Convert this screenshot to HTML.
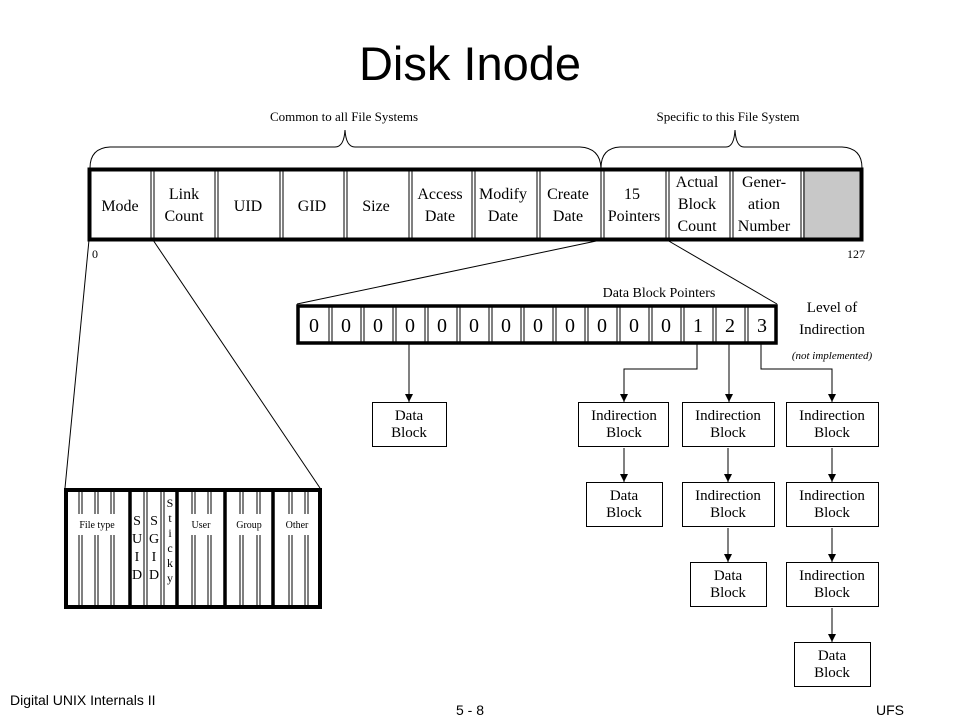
<!DOCTYPE html>
<html><head><meta charset="utf-8"><style>
html,body{margin:0;padding:0;background:#fff;}
svg{display:block;}
.s{font-family:"Liberation Serif",serif;}
.a{font-family:"Liberation Sans",sans-serif;}
</style></head><body>
<svg width="960" height="720" viewBox="0 0 960 720" xmlns="http://www.w3.org/2000/svg">
<defs><marker id="ar" viewBox="0 0 10 10" refX="10" refY="5" markerWidth="8" markerHeight="8" orient="auto" markerUnits="userSpaceOnUse"><path d="M0,0L10,5L0,10z" fill="#000"/></marker></defs>
<text x="470" y="80" class="a" font-size="47" text-anchor="middle">Disk Inode</text>
<text x="344" y="121" class="s" font-size="13" text-anchor="middle">Common to all File Systems</text>
<text x="728" y="121" class="s" font-size="13" text-anchor="middle">Specific to this File System</text>
<g fill="none" stroke="#000" stroke-width="1">
<path d="M90,168 Q90,148 110,147 L335,147 Q344,147 345,130 Q346,147 355,147 L580,147 Q600,148 601,168"/>
<path d="M601,168 Q601,148 620,147 L726,147 Q734,147 735,130 Q736,147 744,147 L842,147 Q862,148 862,168"/>
</g>
<rect x="803" y="170" width="58" height="69" fill="#c8c8c8"/>
<g stroke="#000" stroke-width="1" fill="none">
<line x1="151" y1="170" x2="151" y2="239"/><line x1="154" y1="170" x2="154" y2="239"/>
<line x1="215" y1="170" x2="215" y2="239"/><line x1="218" y1="170" x2="218" y2="239"/>
<line x1="280" y1="170" x2="280" y2="239"/><line x1="283" y1="170" x2="283" y2="239"/>
<line x1="344" y1="170" x2="344" y2="239"/><line x1="347" y1="170" x2="347" y2="239"/>
<line x1="409" y1="170" x2="409" y2="239"/><line x1="412" y1="170" x2="412" y2="239"/>
<line x1="472" y1="170" x2="472" y2="239"/><line x1="475" y1="170" x2="475" y2="239"/>
<line x1="537" y1="170" x2="537" y2="239"/><line x1="540" y1="170" x2="540" y2="239"/>
<line x1="601" y1="170" x2="601" y2="239"/><line x1="604" y1="170" x2="604" y2="239"/>
<line x1="666" y1="170" x2="666" y2="239"/><line x1="669" y1="170" x2="669" y2="239"/>
<line x1="730" y1="170" x2="730" y2="239"/><line x1="733" y1="170" x2="733" y2="239"/>
<line x1="801" y1="170" x2="801" y2="239"/><line x1="804" y1="170" x2="804" y2="239"/>
</g>
<rect x="89.5" y="169.5" width="772" height="70" fill="none" stroke="#000" stroke-width="4"/>
<g class="s" font-size="16" text-anchor="middle">
<text x="120" y="211">Mode</text>
<text x="184" y="199">Link</text><text x="184" y="221">Count</text>
<text x="248" y="211">UID</text>
<text x="312" y="211">GID</text>
<text x="376" y="211">Size</text>
<text x="440" y="199">Access</text><text x="440" y="221">Date</text>
<text x="503" y="199">Modify</text><text x="503" y="221">Date</text>
<text x="568" y="199">Create</text><text x="568" y="221">Date</text>
<text x="632" y="199">15</text><text x="634" y="221">Pointers</text>
<text x="697" y="187">Actual</text><text x="697" y="209">Block</text><text x="697" y="231">Count</text>
<text x="764" y="187">Gener-</text><text x="764" y="209">ation</text><text x="764" y="231">Number</text>
</g>
<text x="92" y="258" class="s" font-size="12">0</text>
<text x="847" y="258" class="s" font-size="12">127</text>
<g stroke="#000" stroke-width="1">
<line x1="89" y1="240" x2="65" y2="488"/>
<line x1="153" y1="240" x2="320" y2="488"/>
<line x1="601" y1="240" x2="297" y2="304"/>
<line x1="667" y1="240" x2="777" y2="304"/>
</g>
<text x="659" y="297" class="s" font-size="14" text-anchor="middle">Data Block Pointers</text>
<g stroke="#000" stroke-width="1">
<line x1="329" y1="306" x2="329" y2="343"/><line x1="332" y1="306" x2="332" y2="343"/>
<line x1="361" y1="306" x2="361" y2="343"/><line x1="364" y1="306" x2="364" y2="343"/>
<line x1="393" y1="306" x2="393" y2="343"/><line x1="396" y1="306" x2="396" y2="343"/>
<line x1="425" y1="306" x2="425" y2="343"/><line x1="428" y1="306" x2="428" y2="343"/>
<line x1="457" y1="306" x2="457" y2="343"/><line x1="460" y1="306" x2="460" y2="343"/>
<line x1="489" y1="306" x2="489" y2="343"/><line x1="492" y1="306" x2="492" y2="343"/>
<line x1="521" y1="306" x2="521" y2="343"/><line x1="524" y1="306" x2="524" y2="343"/>
<line x1="553" y1="306" x2="553" y2="343"/><line x1="556" y1="306" x2="556" y2="343"/>
<line x1="585" y1="306" x2="585" y2="343"/><line x1="588" y1="306" x2="588" y2="343"/>
<line x1="617" y1="306" x2="617" y2="343"/><line x1="620" y1="306" x2="620" y2="343"/>
<line x1="649" y1="306" x2="649" y2="343"/><line x1="652" y1="306" x2="652" y2="343"/>
<line x1="681" y1="306" x2="681" y2="343"/><line x1="684" y1="306" x2="684" y2="343"/>
<line x1="713" y1="306" x2="713" y2="343"/><line x1="716" y1="306" x2="716" y2="343"/>
<line x1="745" y1="306" x2="745" y2="343"/><line x1="748" y1="306" x2="748" y2="343"/>
</g>
<rect x="298" y="306" width="478" height="37" fill="none" stroke="#000" stroke-width="3.5"/>
<g class="s" font-size="20" text-anchor="middle">
<text x="314" y="332">0</text><text x="346" y="332">0</text><text x="378" y="332">0</text><text x="410" y="332">0</text><text x="442" y="332">0</text><text x="474" y="332">0</text><text x="506" y="332">0</text><text x="538" y="332">0</text><text x="570" y="332">0</text><text x="602" y="332">0</text><text x="634" y="332">0</text><text x="666" y="332">0</text><text x="698" y="332">1</text><text x="730" y="332">2</text><text x="762" y="332">3</text>
</g>
<text x="832" y="312" class="s" font-size="15" text-anchor="middle">Level of</text>
<text x="832" y="334" class="s" font-size="15" text-anchor="middle">Indirection</text>
<text x="832" y="359" class="s" font-size="11" font-style="italic" text-anchor="middle">(not implemented)</text>
<g stroke="#000" stroke-width="1" fill="none" marker-end="url(#ar)">
<line x1="409" y1="344" x2="409" y2="402"/>
<polyline points="697,344 697,369 624,369 624,402"/>
<line x1="729" y1="344" x2="729" y2="402"/>
<polyline points="761,344 761,369 832,369 832,402"/>
<line x1="624" y1="448" x2="624" y2="482"/>
<line x1="728" y1="448" x2="728" y2="482"/>
<line x1="832" y1="448" x2="832" y2="482"/>
<line x1="728" y1="528" x2="728" y2="562"/>
<line x1="832" y1="528" x2="832" y2="562"/>
<line x1="832" y1="608" x2="832" y2="642"/>
</g>
<g fill="#fff" stroke="#000" stroke-width="1">
<rect x="372.5" y="402.5" width="74" height="44"/>
<rect x="578.5" y="402.5" width="90" height="44"/>
<rect x="682.5" y="402.5" width="92" height="44"/>
<rect x="786.5" y="402.5" width="92" height="44"/>
<rect x="586.5" y="482.5" width="76" height="44"/>
<rect x="682.5" y="482.5" width="92" height="44"/>
<rect x="786.5" y="482.5" width="92" height="44"/>
<rect x="690.5" y="562.5" width="76" height="44"/>
<rect x="786.5" y="562.5" width="92" height="44"/>
<rect x="794.5" y="642.5" width="76" height="44"/>
</g>
<g class="s" font-size="15" text-anchor="middle">
<text x="409" y="420">Data</text><text x="409" y="437">Block</text>
<text x="624" y="420">Indirection</text><text x="624" y="437">Block</text>
<text x="728" y="420">Indirection</text><text x="728" y="437">Block</text>
<text x="832" y="420">Indirection</text><text x="832" y="437">Block</text>
<text x="624" y="500">Data</text><text x="624" y="517">Block</text>
<text x="728" y="500">Indirection</text><text x="728" y="517">Block</text>
<text x="832" y="500">Indirection</text><text x="832" y="517">Block</text>
<text x="728" y="580">Data</text><text x="728" y="597">Block</text>
<text x="832" y="580">Indirection</text><text x="832" y="597">Block</text>
<text x="832" y="660">Data</text><text x="832" y="677">Block</text>
</g>
<g stroke="#000" stroke-width="1">
<line x1="79" y1="490" x2="79" y2="514"/><line x1="82" y1="490" x2="82" y2="514"/><line x1="79" y1="535" x2="79" y2="606"/><line x1="82" y1="535" x2="82" y2="606"/>
<line x1="95" y1="490" x2="95" y2="514"/><line x1="98" y1="490" x2="98" y2="514"/><line x1="95" y1="535" x2="95" y2="606"/><line x1="98" y1="535" x2="98" y2="606"/>
<line x1="111" y1="490" x2="111" y2="514"/><line x1="114" y1="490" x2="114" y2="514"/><line x1="111" y1="535" x2="111" y2="606"/><line x1="114" y1="535" x2="114" y2="606"/>
<line x1="144" y1="490" x2="144" y2="606"/><line x1="147" y1="490" x2="147" y2="606"/>
<line x1="161" y1="490" x2="161" y2="606"/><line x1="164" y1="490" x2="164" y2="606"/>
<line x1="192" y1="490" x2="192" y2="514"/><line x1="195" y1="490" x2="195" y2="514"/><line x1="192" y1="535" x2="192" y2="606"/><line x1="195" y1="535" x2="195" y2="606"/>
<line x1="208" y1="490" x2="208" y2="514"/><line x1="211" y1="490" x2="211" y2="514"/><line x1="208" y1="535" x2="208" y2="606"/><line x1="211" y1="535" x2="211" y2="606"/>
<line x1="240" y1="490" x2="240" y2="514"/><line x1="243" y1="490" x2="243" y2="514"/><line x1="240" y1="535" x2="240" y2="606"/><line x1="243" y1="535" x2="243" y2="606"/>
<line x1="257" y1="490" x2="257" y2="514"/><line x1="260" y1="490" x2="260" y2="514"/><line x1="257" y1="535" x2="257" y2="606"/><line x1="260" y1="535" x2="260" y2="606"/>
<line x1="289" y1="490" x2="289" y2="514"/><line x1="292" y1="490" x2="292" y2="514"/><line x1="289" y1="535" x2="289" y2="606"/><line x1="292" y1="535" x2="292" y2="606"/>
<line x1="305" y1="490" x2="305" y2="514"/><line x1="308" y1="490" x2="308" y2="514"/><line x1="305" y1="535" x2="305" y2="606"/><line x1="308" y1="535" x2="308" y2="606"/>
<g stroke-width="3.5">
<line x1="130" y1="490" x2="130" y2="606"/>
<line x1="177" y1="490" x2="177" y2="606"/>
<line x1="225" y1="490" x2="225" y2="606"/>
<line x1="273" y1="490" x2="273" y2="606"/>
</g>
</g>
<rect x="66" y="490" width="254" height="117" fill="none" stroke="#000" stroke-width="4"/>
<g class="s" font-size="10" text-anchor="middle">
<rect x="72" y="516" width="52" height="16" fill="#fff"/>
<text x="97" y="528">File type</text>
<rect x="182" y="516" width="38" height="16" fill="#fff"/>
<text x="201" y="528">User</text>
<rect x="229" y="516" width="40" height="16" fill="#fff"/>
<text x="249" y="528">Group</text>
<rect x="278" y="516" width="38" height="16" fill="#fff"/>
<text x="297" y="528">Other</text>
</g>
<g class="s" font-size="14" text-anchor="middle">
<text x="137" y="525">S</text><text x="137" y="543">U</text><text x="137" y="561">I</text><text x="137" y="579">D</text>
<text x="154" y="525">S</text><text x="154" y="543">G</text><text x="154" y="561">I</text><text x="154" y="579">D</text>
</g>
<g class="s" font-size="12" text-anchor="middle">
<text x="170" y="507">S</text><text x="170" y="522">t</text><text x="170" y="537">i</text><text x="170" y="552">c</text><text x="170" y="567">k</text><text x="170" y="582">y</text>
</g>
<text x="10" y="705" class="a" font-size="14">Digital UNIX Internals II</text>
<text x="470" y="715" class="a" font-size="14" text-anchor="middle">5 - 8</text>
<text x="890" y="715" class="a" font-size="14" text-anchor="middle">UFS</text>
</svg>
</body></html>
